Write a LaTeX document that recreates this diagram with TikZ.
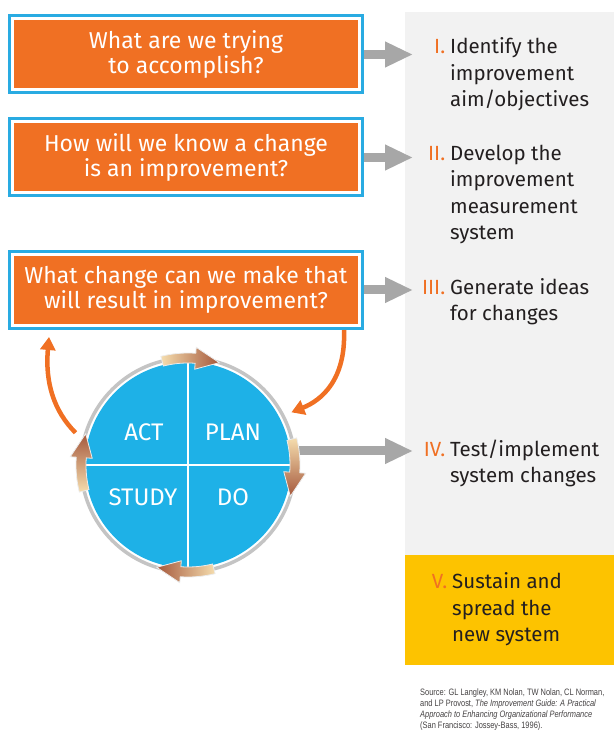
\documentclass[tikz,border=0pt]{standalone}
\usepackage{fontspec}
\setmainfont{Fira Sans}
\newfontfamily\sourcefont[FakeStretch=0.8]{Liberation Sans}
\usetikzlibrary{arrows.meta,positioning,calc}

\definecolor{qorange}{HTML}{F07023}
\definecolor{qcyan}{HTML}{29ABE2}
\definecolor{cycblue}{HTML}{1EB1E7}
\definecolor{panelgray}{HTML}{F2F2F2}
\definecolor{sustainyellow}{HTML}{FDC300}
\definecolor{arrowgray}{HTML}{A7A7A7}
\definecolor{ringgray}{HTML}{C4C4C4}
\definecolor{textdark}{HTML}{231F20}
\definecolor{arrlight}{HTML}{F5DDAE}
\definecolor{arrdark}{HTML}{A5583C}

\tikzset{
  question/.style={draw=qcyan, line width=3pt, fill=white, inner sep=0pt,
    minimum width=353pt, minimum height=77pt, align=center, text=white,
    font=\fontsize{23}{24.5}\selectfont,
    path picture={\fill[qorange]
      ([shift={(4.5pt,4.5pt)}]path picture bounding box.south west) rectangle
      ([shift={(-4.5pt,-4.5pt)}]path picture bounding box.north east);}},
  stepnote/.style={anchor=base west, align=left, inner sep=0pt, text=textdark,
    font=\fontsize{20.5}{26.5}\selectfont},
  steparrow/.style={draw=arrowgray, line width=9pt, shorten >=37pt,
    -{Triangle[length=28pt,width=24pt]}},
  looparrow/.style={draw=qorange, line width=4.5pt,
    -{Triangle[length=13pt,width=15pt]}},
  phase/.style={text=white, font=\fontsize{24}{28}\selectfont},
}

% one shaded arrow riding on the ring, centred at angle #1, running clockwise
\newcommand\cyclearrow[1]{%
  \shade[top color=arrlight, bottom color=arrdark, shading angle=#1,
    draw=white!85!gray, line width=0.8pt]
    ($(cyc)+(#1+14:102)$) arc[start angle=#1+14, end angle=#1-4, radius=102]
    -- ($(cyc)+(#1-4:96)$) -- ($(cyc)+(#1-17:107)$) -- ($(cyc)+(#1-4:118)$)
    -- ($(cyc)+(#1-4:112)$) arc[start angle=#1-4, end angle=#1+14, radius=112]
    -- cycle;
}

\newcommand\stepno[1]{\llap{\textcolor{qorange}{#1}\hspace{5pt}}}

\begin{document}
\begin{tikzpicture}[x=1pt, y=1pt]
  \useasboundingbox (0,0) rectangle (614,740);

  % right hand column
  \fill[panelgray] (405,728) rectangle (614,185);
  \fill[sustainyellow] (405,185) rectangle (614,75);

  % the three questions
  \node[question] (q1) at (186,685.5) {What are we trying\\to accomplish?};
  \node[question] (q2) at (186,582.5) {How will we know a change\\is an improvement?};
  \node[question] (q3) at (186,450) {What change can we make that\\will result in improvement?};

  % steps (placed by the baseline of their last line)
  \node[stepnote] (s1) at (450,633) {\stepno{I.}Identify the\\improvement\\aim/objectives};
  \node[stepnote] (s2) at (450,500) {\stepno{II.}Develop the\\improvement\\measurement\\system};
  \node[stepnote] (s3) at (450,419) {\stepno{III.}Generate ideas\\for changes};
  \node[stepnote] (s4) at (450,257) {\stepno{IV.}Test/implement\\system changes};
  \node[stepnote] (s5) at (452,98) {\stepno{V.}Sustain and\\spread the\\new system};

  \draw[steparrow] (q1.east) -- (q1.east -| s1.west);
  \draw[steparrow] (q2.east) -- (q2.east -| s2.west);
  \draw[steparrow] (q3.east) -- (q3.east -| s3.west);

  % PDSA cycle
  \node[circle, fill=cycblue, minimum size=206pt, inner sep=0pt] (cyc) at (188,275) {};
  \draw[white, line width=2.5pt] (cyc.north) -- (cyc.south) (cyc.west) -- (cyc.east);
  \draw[ringgray, line width=3.5pt] (cyc) circle[radius=107];
  \draw[steparrow] ([yshift=14pt]cyc.east) -- ([yshift=14pt]cyc.east -| s4.west);

  \node[phase] (act) at ($(cyc)+(-44,33)$) {ACT};
  \node[phase] (plan) at ($(cyc)+(45,33)$) {PLAN};
  \node[phase] (study) at ($(cyc)+(-45,-32)$) {STUDY};
  \node[phase] (do) at ($(cyc)+(45,-32)$) {DO};

  \foreach \a in {90,0,-90,180} {\cyclearrow{\a}}

  % loop back to the question and into planning
  \coordinate (planin) at ($(cyc)+(27:116)$);
  \coordinate (actout) at ($(cyc)+(164:117)$);
  \draw[looparrow] ([xshift=-20pt]q3.south east) .. controls +(2,-50) and +(30,12) .. (planin);
  \draw[looparrow] (actout) .. controls +(-22,22) and +(-4,-45) .. ([xshift=41pt,yshift=-7pt]q3.south west);

  % reference
  \node[anchor=north west, align=left, inner sep=0pt, text=textdark!85,
    font=\sourcefont\fontsize{9.3}{11}\selectfont] (src) at (420,51)
    {Source: GL Langley, KM Nolan, TW Nolan, CL Norman,\\
     and LP Provost, \textit{The Improvement Guide: A Practical}\\
     \textit{Approach to Enhancing Organizational Performance}\\
     (San Francisco: Jossey-Bass, 1996).};
\end{tikzpicture}
\end{document}
